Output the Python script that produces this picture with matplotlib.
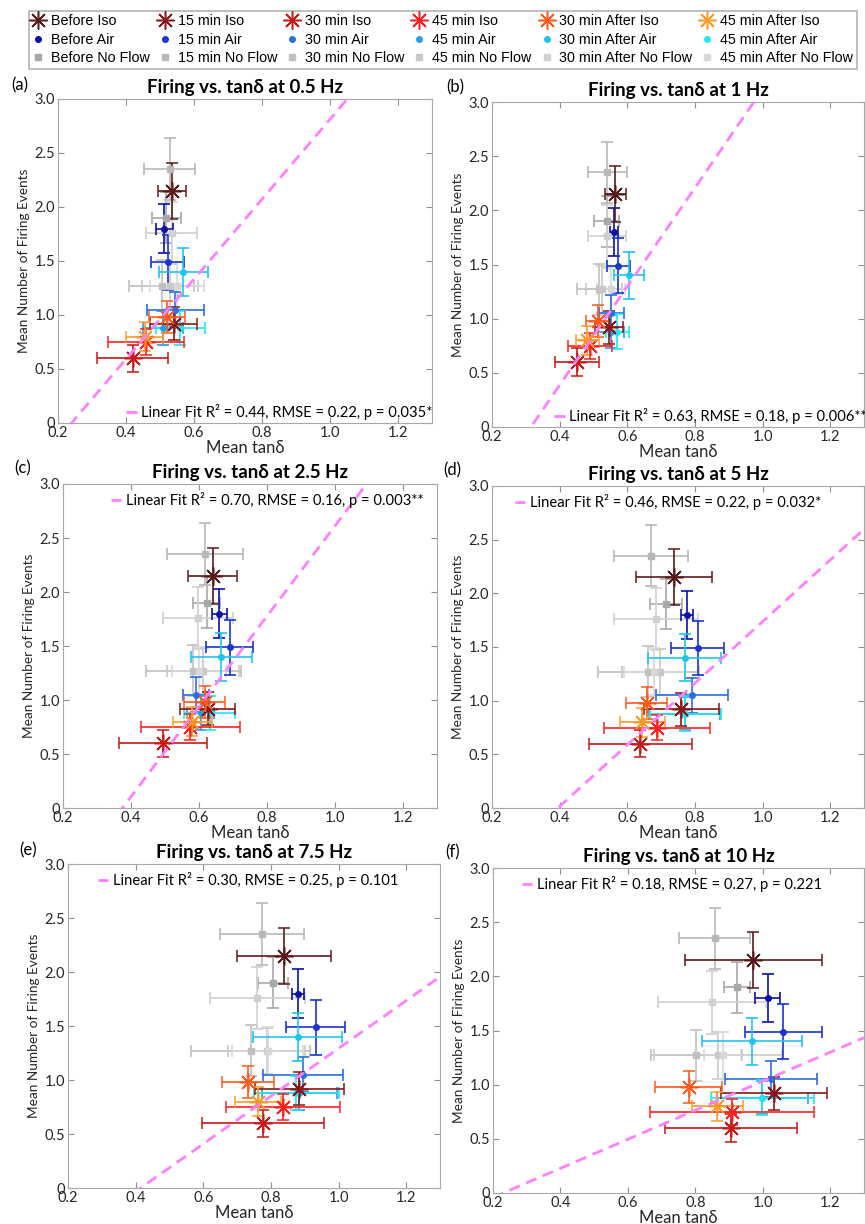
import numpy as np
import matplotlib
matplotlib.use("Agg")
import matplotlib.pyplot as plt
from matplotlib.lines import Line2D

# series: Iso (6), Air (6), No Flow (6)
series_names = ["Before Iso", "15 min Iso", "30 min Iso", "45 min Iso", "30 min After Iso", "45 min After Iso",
                "Before Air", "15 min Air", "30 min Air", "45 min Air", "30 min After Air", "45 min After Air",
                "Before No Flow", "15 min No Flow", "30 min No Flow", "45 min No Flow", "30 min After No Flow",
                "45 min After No Flow"]
series_colors = ["#5b1a1a", "#8b1515", "#c81818", "#ff2020", "#ff5a1a", "#ff9a2a",
                 "#0b10a8", "#1a35d0", "#2a6ee0", "#2a9de8", "#20c4f0", "#1ee8f5",
                 "#a8a8a8", "#b8b8b8", "#c0c0c0", "#c8c8c8", "#d0d0d0", "#d8d8d8"]

# firing events (same for every frequency)
firing_mean = [2.15, 0.92, 0.60, 0.75, 0.98, 0.80,
               1.80, 1.49, 1.05, 0.88, 1.40, 0.88,
               1.90, 2.35, 1.27, 1.27, 1.76, 1.27]
firing_err = [0.26, 0.155, 0.125, 0.12, 0.15, 0.135,
              0.225, 0.255, 0.165, 0.155, 0.22, 0.16,
              0.235, 0.285, 0.235, 0.215, 0.29, 0.22]

# mean tan delta per frequency
tand_05 = [0.535, 0.540, 0.420, 0.459, 0.520, 0.455,
           0.512, 0.523, 0.545, 0.509, 0.569, 0.560,
           0.518, 0.528, 0.505, 0.530, 0.535, 0.550]
tand_05_err = [0.040, 0.068, 0.104, 0.113, 0.053, 0.054,
               0.025, 0.049, 0.083, 0.058, 0.072, 0.071,
               0.043, 0.075, 0.095, 0.082, 0.075, 0.080]
tand_1 = [0.564, 0.546, 0.451, 0.489, 0.512, 0.482,
          0.561, 0.573, 0.553, 0.551, 0.606, 0.571,
          0.539, 0.541, 0.517, 0.525, 0.539, 0.552]
tand_1_err = [0.031, 0.040, 0.065, 0.065, 0.035, 0.033,
              0.013, 0.034, 0.037, 0.038, 0.044, 0.034,
              0.036, 0.058, 0.066, 0.047, 0.056, 0.042]
tand_25 = [0.640, 0.625, 0.494, 0.575, 0.617, 0.580,
           0.660, 0.690, 0.590, 0.605, 0.666, 0.632,
           0.623, 0.618, 0.583, 0.612, 0.597, 0.600]
tand_25_err = [0.071, 0.082, 0.129, 0.145, 0.060, 0.057,
               0.021, 0.069, 0.038, 0.040, 0.089, 0.075,
               0.040, 0.112, 0.140, 0.105, 0.103, 0.080]
tand_5 = [0.739, 0.760, 0.639, 0.687, 0.657, 0.645,
          0.777, 0.808, 0.791, 0.770, 0.770, 0.772,
          0.714, 0.670, 0.662, 0.698, 0.686, 0.680]
tand_5_err = [0.112, 0.110, 0.151, 0.157, 0.060, 0.066,
              0.018, 0.078, 0.106, 0.105, 0.108, 0.104,
              0.047, 0.110, 0.150, 0.115, 0.124, 0.090]
tand_75 = [0.838, 0.884, 0.777, 0.835, 0.731, 0.762,
           0.879, 0.933, 0.894, 0.884, 0.879, 0.875,
           0.806, 0.774, 0.740, 0.787, 0.760, 0.790]
tand_75_err = [0.139, 0.131, 0.180, 0.169, 0.077, 0.068,
               0.018, 0.087, 0.118, 0.110, 0.132, 0.125,
               0.045, 0.125, 0.175, 0.115, 0.140, 0.105]
tand_10 = [0.972, 1.033, 0.906, 0.908, 0.780, 0.865,
           1.014, 1.061, 1.024, 0.999, 0.967, 0.999,
           0.924, 0.857, 0.803, 0.867, 0.849, 0.881]
tand_10_err = [0.203, 0.158, 0.195, 0.243, 0.100, 0.075,
               0.036, 0.114, 0.136, 0.135, 0.148, 0.153,
               0.038, 0.106, 0.135, 0.190, 0.160, 0.055]

freq_labels = ["0.5", "1", "2.5", "5", "7.5", "10"]
panel_letters = ["(a)", "(b)", "(c)", "(d)", "(e)", "(f)"]
tand_all = [tand_05, tand_1, tand_25, tand_5, tand_75, tand_10]
tand_err_all = [tand_05_err, tand_1_err, tand_25_err, tand_5_err, tand_75_err, tand_10_err]

# linear fits: x where fit crosses zero, slope
fit_x0 = [0.24, 0.315, 0.375, 0.395, 0.415, 0.23]
fit_slope = [3.70, 4.55, 4.18, 2.87, 2.21, 1.34]
fit_texts = ["Linear Fit R\u00b2 = 0.44, RMSE = 0.22, p = 0.035*",
             "Linear Fit R\u00b2 = 0.63, RMSE = 0.18, p = 0.006**",
             "Linear Fit R\u00b2 = 0.70, RMSE = 0.16, p = 0.003**",
             "Linear Fit R\u00b2 = 0.46, RMSE = 0.22, p = 0.032*",
             "Linear Fit R\u00b2 = 0.30, RMSE = 0.25, p = 0.101",
             "Linear Fit R\u00b2 = 0.18, RMSE = 0.27, p = 0.221"]

plt.rcParams['font.family'] = ['Lato', 'DejaVu Sans']

W, H = 865, 1224
fig = plt.figure(figsize=(W / 100, H / 100), dpi=100)

# axes boxes in pixels: left, top, right, bottom
boxes = [(58, 99, 432, 423), (492, 102, 864, 427),
         (63, 484, 437, 808), (492, 486, 864, 808),
         (68, 864, 440, 1188), (493, 868, 864, 1193)]
label_pos = [(20, 85), (455, 87), (23, 468), (452, 470), (28, 850), (453, 852)]
leg_loc = [("lower left", (0.175, 0.0)), ("lower left", (0.16, 0.0)),
           ("upper left", (0.12, 0.985)), ("upper left", (0.054, 0.985)),
           ("upper left", (0.073, 0.985)), ("upper left", (0.07, 0.985))]

def marker_style(i):
    if i < 6:
        return dict(marker=(8, 2, 0), markersize=13, markeredgewidth=1.1)
    elif i < 12:
        return dict(marker='o', markersize=4)
    return dict(marker='s', markersize=5)

for p in range(6):
    l, t, r, b = boxes[p]
    ax = fig.add_axes([l / W, 1 - b / H, (r - l) / W, (b - t) / H])
    order = list(range(12, 18)) + list(range(6, 12)) + list(range(0, 6))
    for i in order:
        c = series_colors[i]
        ax.errorbar(tand_all[p][i], firing_mean[i], xerr=tand_err_all[p][i], yerr=firing_err[i],
                    color=c, ecolor=c, elinewidth=1.2, capsize=4, capthick=1.2, linestyle='none',
                    markerfacecolor=c, markeredgecolor=c, **marker_style(i))
    xs = np.array([0.2, 1.3])
    ax.plot(xs, fit_slope[p] * (xs - fit_x0[p]), color='#ff80ff', lw=2, dashes=(4, 2.5),
            label=fit_texts[p], zorder=5)
    ax.set_xlim(0.2, 1.3)
    ax.set_ylim(0, 3.0)
    ax.set_xticks([0.2, 0.4, 0.6, 0.8, 1.0, 1.2])
    ax.set_xticklabels(["0.2", "0.4", "0.6", "0.8", "1.0", "1.2"])
    ax.set_yticks([0, 0.5, 1.0, 1.5, 2.0, 2.5, 3.0])
    ax.set_yticklabels(["0", "0.5", "1.0", "1.5", "2.0", "2.5", "3.0"])
    ax.tick_params(direction='in', top=True, right=True, length=4, color='#909090',
                   labelsize=10.5, labelcolor='#262626', pad=2)
    for s in ax.spines.values():
        s.set_color('#a8a8a8')
        s.set_linewidth(0.8)
    ax.set_xlabel("Mean tan\u03b4", fontsize=12, labelpad=0, color='#262626')
    ax.set_ylabel("Mean Number of Firing Events", fontsize=9.8, labelpad=3, color='#262626')
    ax.set_title("Firing vs. tan\u03b4 at " + freq_labels[p] + " Hz", fontsize=13.5, fontweight='bold', pad=4)
    loc, anchor = leg_loc[p]
    ax.legend(loc=loc, bbox_to_anchor=anchor, frameon=False, fontsize=10.6, handlelength=0.7,
              handletextpad=0.3, borderaxespad=0.1, borderpad=0.1)
    fig.text(label_pos[p][0] / W, 1 - label_pos[p][1] / H, panel_letters[p], fontsize=12,
             ha='center', va='center')

# top legend
handles = []
labels = []
for k in range(6):
    for g in range(3):
        i = g * 6 + k
        c = series_colors[i]
        handles.append(Line2D([], [], linestyle='none', color=c, markerfacecolor=c, markeredgecolor=c,
                              **marker_style(i)))
        labels.append(series_names[i])
leg = fig.legend(handles, labels, ncol=6, loc='upper center', bbox_to_anchor=(0.512, 0.997),
                 frameon=True, fancybox=False, edgecolor='#a0a0a0', handlelength=0.8,
                 handletextpad=0.5, columnspacing=0.65, labelspacing=0.3, borderpad=0.25,
                 prop={'family': ['Liberation Sans Narrow', 'Liberation Sans'], 'size': 10.3})
leg.get_frame().set_linewidth(1.2)

fig.savefig("out.png", dpi=100)
